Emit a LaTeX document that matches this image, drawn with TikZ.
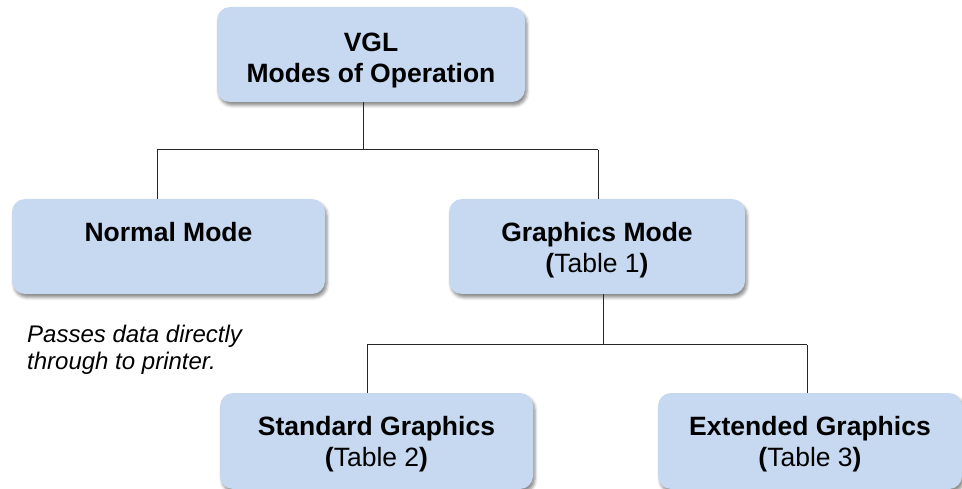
\documentclass[tikz,border=0pt]{standalone}
\usepackage{fontspec}
\setmainfont{Liberation Sans}
\usetikzlibrary{shadows.blur}
\definecolor{boxfill}{HTML}{C6D9F0}
\newcommand\boxtext[2]{\raisebox{-#1}[\height][\depth]{\begin{tabular}{@{}c@{}}#2\end{tabular}}}
\begin{document}
\begin{tikzpicture}[x=1pt,y=-1pt,
  modebox/.style={draw=none, fill=boxfill, rounded corners=13pt,
    inner sep=0pt, font=\fontsize{26.5}{31}\selectfont\bfseries,
    blur shadow={shadow xshift=2pt, shadow yshift=-3.5pt, shadow blur radius=3pt, shadow opacity=45}},
  link/.style={draw=black!85, line width=1pt}]
\useasboundingbox (0,0) rectangle (962,489);
\node[modebox, minimum width=308, minimum height=95] (top) at (371,54.5) {\boxtext{6pt}{VGL\\Modes of Operation}};
\node[modebox, minimum width=313, minimum height=95] (normal) at (168.5,246.5) {\boxtext{4pt}{Normal Mode\\\mbox{}}};
\node[modebox, minimum width=296, minimum height=95] (graphics) at (597,246.5) {\boxtext{4pt}{Graphics Mode\\(\mdseries Table 1\bfseries)}};
\node[modebox, minimum width=313, minimum height=96] (std) at (376.5,441) {\boxtext{4pt}{Standard Graphics\\(\mdseries Table 2\bfseries)}};
\node[modebox, minimum width=304, minimum height=96] (ext) at (810,441) {\boxtext{4pt}{Extended Graphics\\(\mdseries Table 3\bfseries)}};
\node[anchor=west, align=left, inner sep=0pt, font=\fontsize{24}{27}\selectfont\itshape] (note) at (27,349.5) {Passes data directly\\through to printer.};
\coordinate (a) at (363,150);
\coordinate (h1l) at (157,150);
\coordinate (h1r) at (598,150);
\coordinate (b) at (603,345);
\coordinate (h2l) at (367,345);
\coordinate (h2r) at (807,345);
\draw[link] (top.south -| a) -- (a);
\draw[link] (h1l) -- (h1r);
\draw[link] (h1l) -- (normal.north -| h1l);
\draw[link] (h1r) -- (graphics.north -| h1r);
\draw[link] (graphics.south -| b) -- (b);
\draw[link] (h2l) -- (h2r);
\draw[link] (h2l) -- (std.north -| h2l);
\draw[link] (h2r) -- (ext.north -| h2r);
\end{tikzpicture}
\end{document}
